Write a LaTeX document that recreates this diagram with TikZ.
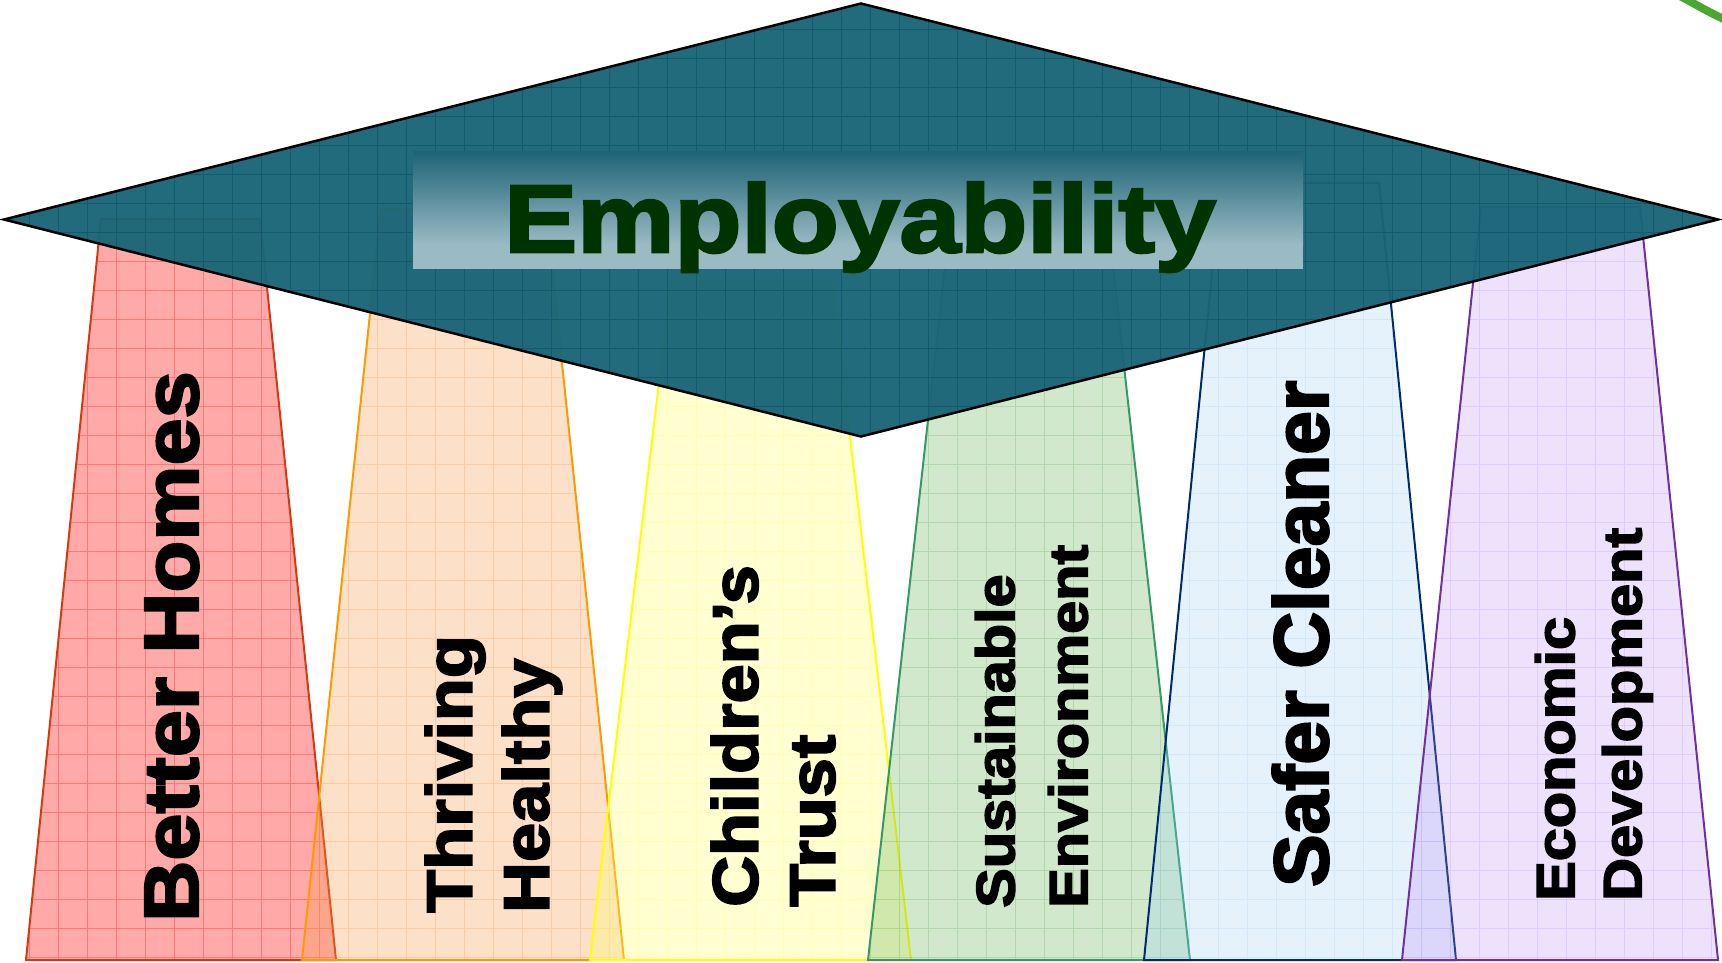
\documentclass[tikz,border=0pt]{standalone}
\usepackage{fontspec}
\setmainfont{Liberation Sans}
\newfontfamily\heavyfont[FakeBold=3,FakeStretch=1.1]{Liberation Sans Bold}
\definecolor{homesFill}{HTML}{FF3333}
\definecolor{homesLine}{HTML}{D23A12}
\definecolor{healthFill}{HTML}{F89A4A}
\definecolor{healthLine}{HTML}{FF9900}
\definecolor{trustFill}{HTML}{FFFF66}
\definecolor{trustLine}{HTML}{FFFF00}
\definecolor{envFill}{HTML}{66B35A}
\definecolor{envLine}{HTML}{339966}
\definecolor{safeFill}{HTML}{99CCF5}
\definecolor{safeLine}{HTML}{002A6E}
\definecolor{econFill}{HTML}{BB88F5}
\definecolor{econLine}{HTML}{7030A0}
\definecolor{roofFill}{HTML}{196577}
\definecolor{roofGrid}{HTML}{135A6C}
\definecolor{boxTop}{HTML}{1F6477}
\definecolor{boxBottom}{HTML}{9BBBC4}
\definecolor{titleGreen}{HTML}{003300}
\definecolor{leafGreen}{HTML}{4AA832}

\begin{document}
\begin{tikzpicture}[x=1pt, y=-1pt]
  \tikzset{
    pillar text/.style = {rotate=90, inner sep=0pt, text=black},
    big label/.style = {font=\heavyfont\fontsize{77}{92}\selectfont},
    mid label/.style = {font=\heavyfont\fontsize{64}{77}\selectfont, align=left},
    small label/.style = {font=\heavyfont\fontsize{54}{73}\selectfont, align=left},
  }
  \useasboundingbox (0,0) rectangle (1722,963);

  % Pillars
  \foreach \name/\op/\ty/\tl/\tr/\bl/\br in {
      homes/0.42/219/101/260/26/336,
      health/0.3/209/381/546/302/624,
      trust/0.3/282/671/832/590/911,
      env/0.3/240/948/1110/868/1190,
      safe/0.25/183/1221/1379/1144/1456,
      econ/0.25/207/1481/1640/1402/1718} {
    \begin{scope}
      \clip (\tl,\ty) -- (\tr,\ty) -- (\br,960) -- (\bl,960) -- cycle;
      \fill[fill=\name Fill, fill opacity=\op] (0,0) rectangle (1722,963);
      \begin{scope}[y=1pt]
        \draw[draw=\name Fill, opacity=\op, line width=0.9pt, step=29] (0,-963) grid (1722,0);
      \end{scope}
    \end{scope}
    \draw[draw=\name Line, line width=2pt] (\tl,\ty) -- (\tr,\ty) -- (\br,960) -- (\bl,960) -- cycle;
  }

  % Roof
  \begin{scope}
    \clip (4,219.5) -- (861,3.5) -- (1718,219.5) -- (861,436.5) -- cycle;
    \fill[roofFill, fill opacity=0.96] (0,0) rectangle (1722,963);
    \begin{scope}[y=1pt]
      \draw[roofGrid, line width=0.9pt, step=29] (0,-963) grid (1722,0);
    \end{scope}
  \end{scope}
  \draw[line width=2.5pt] (4,219.5) -- (861,3.5) -- (1718,219.5) -- (861,436.5) -- cycle;

  % Title box
  \shade[top color=boxTop, bottom color=boxBottom] (413,152) rectangle (1303,245);
  \fill[boxBottom] (413,244.5) rectangle (1303,269);
  \node[font=\heavyfont\addfontfeature{FakeStretch=1.14}\fontsize{96}{110}\selectfont,
    text=titleGreen, inner sep=0pt, anchor=base] (title) at (860,252) {Employability};

  % Pillar labels
  \node[pillar text, big label, anchor=base west] (homes) at (198,922) {Better Homes};
  \node[pillar text, mid label, anchor=north west] (health) at (425,913) {Thriving\\Healthy};
  \node[pillar text, mid label, anchor=north west] (children) at (711,907) {Children’s\\Trust};
  \node[pillar text, small label, anchor=north west] (environment) at (975,908) {Sustainable\\Environment};
  \node[pillar text, big label, font=\heavyfont\addfontfeature{FakeStretch=1.02}\fontsize{77}{92}\selectfont,
    anchor=base west] (safety) at (1328,887) {Safer Cleaner};
  \node[pillar text, small label, font=\heavyfont\fontsize{54}{67}\selectfont, anchor=north west]
    (economy) at (1535,901) {Economic\\Development};

  % Green arc
  \draw[leafGreen, line width=8pt] (1680,-4) .. controls (1695,4) and (1710,13) .. (1728,21);
\end{tikzpicture}
\end{document}
